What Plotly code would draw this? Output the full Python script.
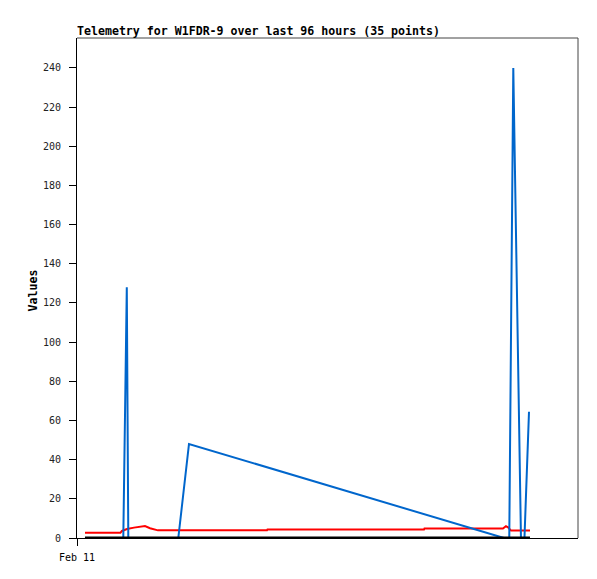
import plotly.graph_objects as go

# Hours since Feb 11 00:00 (x axis spans 96 hours)
blue_hours = [1.53, 8.87, 9.54, 9.83, 19.41, 21.46, 81.82, 82.83, 83.60, 85.07, 85.74, 86.61]
blue_vals  = [0,    0,    128,  0,    0,     48,    0,     0,     240,   0,     0,     64.5]

red_hours = [1.53, 8.34, 8.62, 9.58, 10.92, 13.03, 13.99, 15.52, 36.41, 36.50, 66.49, 66.58, 81.62, 82.20, 82.60, 83.16, 86.80]
red_vals  = [2.7,  2.7,  3.6,  4.6,  5.3,   6.1,   5.0,   3.9,   3.9,   4.3,   4.3,   4.8,   4.8,   6.0,   5.5,   3.8,   3.8]

black_hours = [1.53, 86.80]
black_vals  = [0, 0]

y_ticks = [0, 20, 40, 60, 80, 100, 120, 140, 160, 180, 200, 220, 240]
x_tick_vals = [0]
x_tick_text = ["Feb 11"]

title_text = "Telemetry for W1FDR-9 over last 96 hours (35 points)"
y_title = "Values"

fig = go.Figure()
fig.add_trace(go.Scatter(x=red_hours, y=red_vals, mode="lines",
                         line=dict(color="#ff0000", width=2), showlegend=False))
fig.add_trace(go.Scatter(x=blue_hours, y=blue_vals, mode="lines",
                         line=dict(color="#0066cc", width=2), showlegend=False))
fig.add_trace(go.Scatter(x=black_hours, y=black_vals, mode="lines",
                         line=dict(color="#000000", width=3), showlegend=False))

mono = "DejaVu Sans Mono"
W, H = 589, 571  # page has an 8px body margin

fig.update_layout(
    width=W, height=H,
    margin=dict(l=69, r=19, t=30, b=41),
    paper_bgcolor="white", plot_bgcolor="white",
    title=dict(text="<b>" + title_text + "</b>", x=69/W, xanchor="left",
               xref="container", y=1 - 23/H, yanchor="middle", yref="container",
               font=dict(family=mono, size=11.6, color="black")),
    xaxis=dict(range=[0, 96], tickvals=x_tick_vals, ticktext=x_tick_text,
               showgrid=False, zeroline=False, showline=True, linecolor="black",
               linewidth=1, ticks="outside", ticklen=7, tickcolor="black",
               ticklabelstandoff=3,
               tickfont=dict(family=mono, size=10, color="black")),
    yaxis=dict(range=[0, 255.3], tickvals=y_ticks, showgrid=False, zeroline=False,
               showline=True, linecolor="black", linewidth=1, ticks="outside",
               ticklen=7, tickcolor="black", ticklabelstandoff=6,
               tickfont=dict(family=mono, size=10, color="#222222")),
    shapes=[
        dict(type="line", xref="paper", yref="paper", x0=0, x1=1, y0=1, y1=1,
             line=dict(color="#444444", width=1)),
        dict(type="line", xref="paper", yref="paper", x0=1, x1=1, y0=0, y1=1,
             line=dict(color="#444444", width=1)),
    ],
    annotations=[
        dict(text="<b>" + y_title + "</b>", xref="paper", yref="paper",
             x=(32 - 77) / 501, y=0.495, textangle=-90, showarrow=False,
             xanchor="center", yanchor="middle",
             font=dict(family=mono, size=11.6, color="black")),
    ],
)

fig.write_html("out.html")
